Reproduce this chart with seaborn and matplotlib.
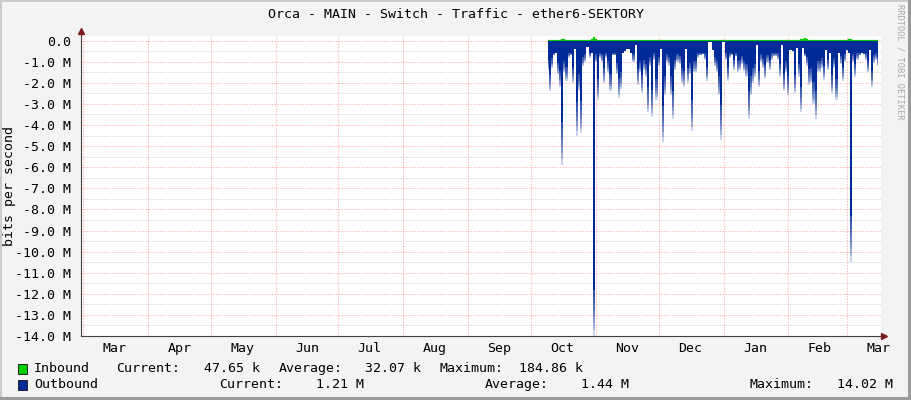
import numpy as np
import pandas as pd
import matplotlib
matplotlib.use("Agg")
import matplotlib.pyplot as plt
import matplotlib.dates as mdates
from matplotlib.patches import Rectangle
import seaborn as sns

# ---------------- data ----------------
START = "2024-10-09"          # first daily sample
inbound_k = [
    45, 40, 20, 15, 20, 35, 50, 55, 60, 40,
    25, 20, 30, 45, 40, 45, 35, 20, 15, 20,
    25, 60, 185, 70, 30, 40, 45, 50, 35, 40,
    30, 20, 45, 40, 35, 25, 20, 30, 20, 25,
    35, 40, 45, 40, 20, 35, 40, 45, 30, 20,
    25, 40, 35, 30, 40, 45, 35, 20, 25, 40,
    45, 35, 30, 40, 30, 25, 40, 45, 35, 30,
    20, 25, 30, 35, 25, 20, 30, 15, 15, 25,
    30, 40, 35, 30, 20, 25, 40, 35, 30, 45,
    40, 35, 30, 45, 40, 30, 25, 35, 40, 30,
    30, 25, 35, 40, 30, 25, 30, 35, 40, 30,
    25, 30, 35, 40, 45, 30, 25, 35, 30, 40,
    45, 60, 90, 130, 60, 40, 30, 25, 35, 40,
    30, 25, 35, 40, 30, 25, 30, 40, 45, 35,
    30, 25, 35, 40, 60, 80, 45, 35, 30, 25,
    30, 35, 40, 30, 25, 35, 40, 45, 48,
]
outbound_M = [
    1.4, 2.4, 1.3, 0.7, 0.6, 1.6, 2.2, 5.9, 1.5, 1.9,
    0.8, 0.7, 2.0, 0.4, 4.5, 2.4, 4.4, 1.2, 1.0, 0.3,
    0.8, 0.6, 14.02, 1.0, 2.8, 0.8, 1.0, 2.0, 0.8, 1.5,
    2.4, 0.7, 0.7, 1.6, 2.7, 2.3, 0.6, 0.5, 0.4, 0.4,
    0.6, 1.0, 0.2, 2.1, 1.5, 2.5, 1.4, 1.7, 3.4, 1.2,
    3.6, 0.9, 2.8, 1.2, 0.4, 4.8, 2.6, 1.0, 1.2, 2.6,
    3.7, 1.4, 1.0, 1.1, 2.0, 2.2, 0.4, 2.0, 1.6, 4.3,
    1.5, 1.5, 0.8, 0.7, 0.65, 0.9, 1.9, 0.05, 0.05, 0.45,
    1.2, 1.5, 2.6, 4.7, 0.05, 0.9, 1.9, 0.8, 0.7, 1.4,
    0.75, 1.5, 1.4, 1.1, 1.45, 1.7, 3.7, 2.6, 2.0, 1.7,
    0.2, 2.2, 1.0, 1.3, 1.8, 1.05, 1.4, 0.9, 0.74, 0.74,
    0.9, 1.7, 0.2, 2.4, 1.5, 2.6, 0.43, 0.5, 2.5, 0.35,
    1.7, 3.4, 0.35, 0.74, 1.2, 2.1, 2.0, 3.0, 3.7, 1.5,
    1.5, 1.3, 1.85, 0.43, 1.4, 0.58, 2.5, 1.3, 2.8, 0.58,
    1.1, 1.9, 1.0, 0.43, 0.58, 10.5, 1.0, 1.7, 0.9, 0.7,
    0.58, 0.66, 0.9, 1.5, 0.43, 2.2, 1.05, 0.9, 1.21,
]
Y_TICKS_M = [0, -1, -2, -3, -4, -5, -6, -7, -8, -9, -10, -11, -12, -13, -14]
Y_LABELS = ["0.0", "-1.0 M", "-2.0 M", "-3.0 M", "-4.0 M", "-5.0 M", "-6.0 M",
            "-7.0 M", "-8.0 M", "-9.0 M", "-10.0 M", "-11.0 M", "-12.0 M",
            "-13.0 M", "-14.0 M"]
MONTH_LABELS = ["Mar", "Apr", "May", "Jun", "Jul", "Aug", "Sep", "Oct",
                "Nov", "Dec", "Jan", "Feb", "Mar"]
TITLE = "Orca - MAIN - Switch - Traffic - ether6-SEKTORY"
LEGEND_IN = [("Inbound", 34), ("Current:", 116), ("47.65 k", 204),
             ("Average:", 279), ("32.07 k", 365), ("Maximum:", 440), ("184.86 k", 519)]
LEGEND_OUT = [("Outbound", 34), ("Current:", 219), ("1.21 M", 316),
              ("Average:", 485), ("1.44 M", 581), ("Maximum:", 750), ("14.02 M", 837)]

dates = pd.date_range(START, periods=len(outbound_M), freq="D")
df = pd.DataFrame({
    "date": dates,
    "inbound": np.array(inbound_k) * 1e3,
    "outbound": -np.array(outbound_M) * 1e6,
})

# ---------------- style ----------------
sns.set_style("white")
plt.rcParams["font.family"] = ["DejaVu Sans Mono", "DejaVu Sans"]
FS = 9.5
BLUE = "#002A97"
GREEN = "#00CC00"

W, H = 911, 400
fig = plt.figure(figsize=(W / 100, H / 100), dpi=100, facecolor="#F3F3F3")
L, R, T, B = 80.5, 880.5, 36, 336
ax = fig.add_axes([L / W, 1 - B / H, (R - L) / W, (B - T) / H])
ax.set_facecolor("white")

ax.set_xlim(pd.Timestamp("2024-02-28 19:00"), pd.Timestamp("2025-03-17 00:00"))
ax.set_ylim(-14.0e6, 0.22e6)

# ---- data marks ----
ax.fill_between(df["date"], 0, df["inbound"], step="mid", color=GREEN, lw=0, zorder=2)
sns.lineplot(data=df, x="date", y="inbound", ax=ax, color=GREEN, lw=0.3, alpha=0.55,
             drawstyle="steps-mid", zorder=2)

# outbound: solid body plus a fading tip (imitates rrdtool's anti-aliased spikes)
depth = -df["outbound"].to_numpy()
solid = np.minimum(depth, np.maximum(np.maximum(0.65 * depth, depth - 2.2e6), 0.6e6))
ax.fill_between(df["date"], 0, -solid, step="mid", color=BLUE, lw=0, zorder=3)
for g in np.linspace(0.14, 1.0, 7):
    ax.fill_between(df["date"], 0, -(solid + (depth - solid) * g), step="mid",
                    color=BLUE, alpha=0.2, lw=0, zorder=3)

# ---- grid / ticks ----
ax.set_yticks(np.array(Y_TICKS_M) * 1e6)
ax.set_yticklabels(Y_LABELS)
ax.set_yticks(np.arange(-13.5, 0.1, 1.0) * 1e6, minor=True)
ax.xaxis.set_major_locator(mdates.MonthLocator())
ax.xaxis.set_major_formatter(matplotlib.ticker.NullFormatter())
mid = pd.date_range("2024-03-16", periods=len(MONTH_LABELS), freq=pd.DateOffset(months=1))
ax.set_xticks(mdates.date2num(mid), minor=True)
ax.set_xticklabels(MONTH_LABELS, minor=True)

ax.set_axisbelow(False)
ax.grid(True, which="major", axis="both", color="#FF0000", alpha=0.33, lw=0.72,
        linestyle=(0, (1.2, 1.6)), zorder=4)
ax.grid(True, which="minor", axis="y", color="#808080", alpha=0.36, lw=0.72,
        linestyle=(0, (1.2, 1.6)), zorder=4)

ax.tick_params(axis="y", which="major", length=2.2, width=0.7, color="#444444",
               pad=4.3, labelsize=FS, labelcolor="black", direction="out")
ax.tick_params(axis="y", which="minor", length=1.2, width=0.7, color="#777777",
               direction="out")
ax.tick_params(axis="x", which="major", length=2, width=0.7, color="#F0A0A0",
               direction="out")
ax.tick_params(axis="x", which="minor", length=0, pad=4, labelsize=FS, labelcolor="black")
ax.set_xlabel("")
ax.set_ylabel("")

for s in ["top", "right"]:
    ax.spines[s].set_visible(False)
for s in ["left", "bottom"]:
    ax.spines[s].set_color("#404040")
    ax.spines[s].set_linewidth(0.8)
    ax.spines[s].set_zorder(5)

# axis arrows
ARROW = "#7A1C1C"
ax.plot([0, 0], [1, 1.012], transform=ax.transAxes, clip_on=False, color="#404040", lw=0.8, zorder=5)
ax.plot([0], [1.0155], transform=ax.transAxes, clip_on=False, marker="^", ms=4.2,
        color=ARROW, mec=ARROW, zorder=6)
ax.plot([1, 1.004], [0, 0], transform=ax.transAxes, clip_on=False, color="#404040", lw=0.8, zorder=5)
ax.plot([1.0045], [0], transform=ax.transAxes, clip_on=False, marker=">", ms=4.2,
        color=ARROW, mec=ARROW, zorder=6)

# ---- texts ----
def fx(px):
    return px / W

def fy(py):
    return 1 - py / H

fig.text(fx(455.5), fy(14), TITLE, ha="center", va="center", fontsize=FS, color="black")
fig.text(fx(10), fy(186), "bits per second", ha="center", va="center", rotation=90,
         fontsize=FS, color="black")
fig.text(fx(900), fy(4), "RRDTOOL / TOBI OETIKER", ha="center", va="top", rotation=270,
         fontsize=6.2, color="#A8A8A8")

for (txt, px) in LEGEND_IN:
    fig.text(fx(px), fy(368.5), txt, ha="left", va="center", fontsize=FS, color="black")
for (txt, px) in LEGEND_OUT:
    fig.text(fx(px), fy(384.5), txt, ha="left", va="center", fontsize=FS, color="black")

for (yc, col) in [(368.5, GREEN), (384.5, BLUE)]:
    fig.patches.append(Rectangle((fx(17.5), fy(yc + 5)), 9.5 / W, 9.5 / H,
                                 transform=fig.transFigure, facecolor=col,
                                 edgecolor="#222222", lw=0.7))

# 3D frame
fig.patches.append(Rectangle((0, 1 - 2 / H), 1, 2 / H, transform=fig.transFigure,
                             facecolor="#CBCBCB", edgecolor="none"))
fig.patches.append(Rectangle((0, 0), 2 / W, 1, transform=fig.transFigure,
                             facecolor="#CBCBCB", edgecolor="none"))
fig.patches.append(Rectangle((1 - 3 / W, 0), 3 / W, 1, transform=fig.transFigure,
                             facecolor="#9A9A9A", edgecolor="none"))
fig.patches.append(Rectangle((0, 0), 1, 3 / H, transform=fig.transFigure,
                             facecolor="#9A9A9A", edgecolor="none"))

fig.savefig("out.png", dpi=100, facecolor=fig.get_facecolor())
